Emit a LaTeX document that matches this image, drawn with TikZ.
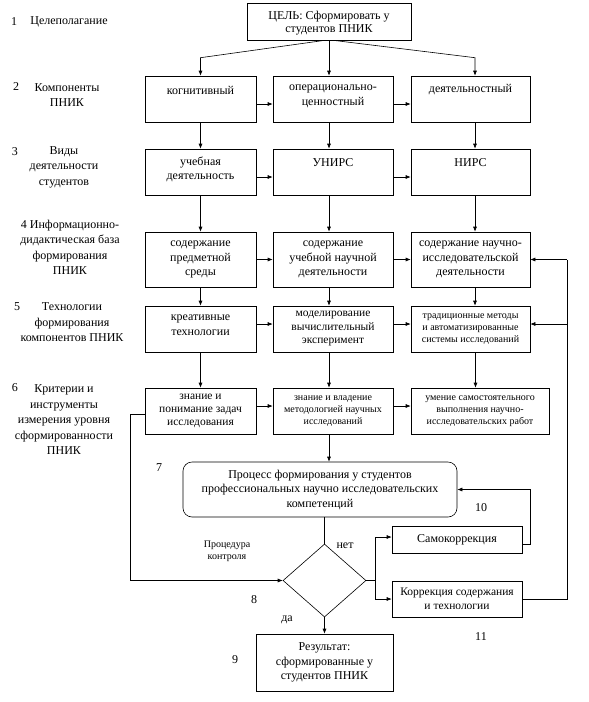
\documentclass[tikz,border=0pt]{standalone}
\usepackage{fontspec}
\setmainfont{Liberation Serif}
\usetikzlibrary{arrows.meta,shapes.geometric}
\begin{document}
\begin{tikzpicture}[x=1pt,y=-1pt,
  box/.style={draw, line width=0.6pt, inner sep=0pt, align=center, font=\fontsize{12}{14.5}\selectfont},
  txt/.style={inner sep=0pt, align=center, font=\fontsize{12}{14.5}\selectfont},
  smalltxt/.style={font=\fontsize{10}{12}\selectfont},
  lab/.style={inner sep=0pt, align=center, font=\fontsize{12}{15.5}\selectfont},
  arr/.style={-{Latex[length=5pt,width=4pt]}, line width=0.6pt},
  ln/.style={line width=0.6pt}]
\useasboundingbox (0,0) rectangle (589,702);
\fill[white] (0,0) rectangle (589,702);

% left labels
\node[lab] (n1) at (14,22) {1};
\node[lab] (l1) at (69,22) {Целеполагание};
\node[lab] (n2) at (16,87) {2};
\node[lab] (lb2) at (67,95) {Компоненты\\ПНИК};
\node[lab] (n3) at (15,152) {3};
\node[lab] (lb3) at (64,167) {Виды\\деятельности\\студентов};
\node[lab] (lb4) at (70,247.5) {4 Информационно-\\дидактическая база\\формирования\\ПНИК};
\node[lab] (n5) at (17,307) {5};
\node[lab] (lb5) at (72,322.5) {Технологии\\формирования\\компонентов ПНИК};
\node[lab] (n6) at (15,388) {6};
\node[lab] (lb6) at (64,420) {Критерии и\\инструменты\\измерения уровня\\сформированности\\ПНИК};

% top goal
\node[box, minimum width=164pt, minimum height=37pt] (top) at (329,21.5) {};
\node[txt, font=\fontsize{12}{13}\selectfont] (topt) at (329,23.5) {ЦЕЛЬ: Сформировать у\\студентов ПНИК};

% row 2
\node[box, minimum width=111pt, minimum height=46pt] (l2) at (200.5,99) {};
\node[box, minimum width=120pt, minimum height=46pt] (m2) at (333,99) {};
\node[box, minimum width=119pt, minimum height=46pt] (r2) at (470.5,99) {};
\node[txt] (l2t) at (200.5,90) {когнитивный};
\node[txt] (m2t) at (333,96.5) {операционально-\\ценностный};
\node[txt] (r2t) at (470.5,90) {деятельностный};

% row 3
\node[box, minimum width=111pt, minimum height=46pt] (l3) at (200.5,172) {};
\node[box, minimum width=120pt, minimum height=46pt] (m3) at (333,172) {};
\node[box, minimum width=119pt, minimum height=46pt] (r3) at (470.5,172) {};
\node[txt] (l3t) at (200.5,169.5) {учебная\\деятельность};
\node[txt] (m3t) at (333,163) {УНИРС};
\node[txt] (r3t) at (470.5,163) {НИРС};

% row 4
\node[box, minimum width=111pt, minimum height=55pt] (l4) at (200.5,259.5) {содержание\\предметной\\среды};
\node[box, minimum width=120pt, minimum height=55pt] (m4) at (333,259.5) {содержание\\учебной научной\\деятельности};
\node[box, minimum width=119pt, minimum height=55pt] (r4) at (470.5,259.5) {содержание научно-\\исследовательской\\деятельности};

% row 5
\node[box, minimum width=111pt, minimum height=46pt] (l5) at (200.5,329) {};
\node[txt] (l5t) at (200.5,325) {креативные\\технологии};
\node[box, minimum width=120pt, minimum height=46pt, font=\fontsize{11.5}{13.5}\selectfont] (m5) at (333,329) {моделирование\\вычислительный\\эксперимент};
\node[box, minimum width=119pt, minimum height=46pt, smalltxt] (r5) at (470.5,329) {традиционные методы\\и автоматизированные\\системы исследований};

% row 6
\node[box, minimum width=111pt, minimum height=46pt, font=\fontsize{11.5}{13}\selectfont] (l6) at (200.5,411) {знание и\\понимание задач\\исследования};
\node[box, minimum width=120pt, minimum height=46pt, smalltxt] (m6) at (333,411) {знание и владение\\методологией научных\\исследований};
\node[box, minimum width=138pt, minimum height=46pt, smalltxt] (r6) at (480,411) {умение самостоятельного\\выполнения научно-\\исследовательских работ};

% process, diamond, result, corrections
\node[box, rounded corners=9pt, minimum width=274pt, minimum height=55pt] (proc) at (320,489.5) {Процесс формирования у студентов\\профессиональных научно исследовательских\\компетенций};
\node[draw, diamond, line width=0.6pt, minimum width=83pt, minimum height=73pt, inner sep=0pt] (dia) at (324.5,580.5) {};
\node[box, minimum width=137pt, minimum height=57pt] (res) at (324.5,662.5) {Результат:\\сформированные у\\студентов ПНИК};
\node[box, minimum width=130pt, minimum height=27pt] (samo) at (457,539.5) {Самокоррекция};
\node[box, minimum width=130pt, minimum height=36pt, font=\fontsize{11.5}{14.5}\selectfont] (korr) at (457,599) {Коррекция содержания\\и технологии};

% misc labels
\node[txt] (k7) at (159,468) {7};
\node[txt] (k8) at (254,600) {8};
\node[txt] (k9) at (235,660) {9};
\node[txt] (k10) at (481,508) {10};
\node[txt] (k11) at (481,637) {11};
\node[txt] (net) at (345,546) {нет};
\node[txt] (da) at (287,620) {да};
\node[txt, smalltxt] (proc2) at (227,551.5) {Процедура\\контроля};

% top arrows
\draw[arr] ([xshift=-4pt]top.south) -- ([yshift=18pt]l2.north) -- (l2.north);
\draw[arr] (top.south) -- (top.south |- m2.north);
\draw[arr] ([xshift=4pt]top.south) -- ([xshift=4.5pt,yshift=18pt]r2.north) -- ([xshift=4.5pt]r2.north);

% vertical arrows
\draw[arr] (l2.south) -- (l3.north);
\draw[arr] (l3.south) -- (l4.north);
\draw[arr] (l4.south) -- (l5.north);
\draw[arr] (l5.south) -- (l6.north);
\draw[arr] ([xshift=-4pt]m2.south) -- ([xshift=-4pt]m3.north);
\draw[arr] ([xshift=-4pt]m3.south) -- ([xshift=-4pt]m4.north);
\draw[arr] ([xshift=-4pt]m4.south) -- ([xshift=-4pt]m5.north);
\draw[arr] ([xshift=-4pt]m5.south) -- ([xshift=-4pt]m6.north);
\draw[arr] ([xshift=4.5pt]r2.south) -- ([xshift=4.5pt]r3.north);
\draw[arr] ([xshift=4.5pt]r3.south) -- ([xshift=4.5pt]r4.north);
\draw[arr] ([xshift=4.5pt]r4.south) -- ([xshift=4.5pt]r5.north);
\draw[arr] ([xshift=5pt]r5.south) -- ([xshift=5pt]r5.south |- r6.north);

% horizontal arrows
\draw[arr] ([yshift=-5pt]l2.east) -- ([yshift=-5pt]m2.west);
\draw[arr] ([yshift=-5pt]m2.east) -- ([yshift=-5pt]r2.west);
\draw[arr] ([yshift=-5pt]l3.east) -- ([yshift=-5pt]m3.west);
\draw[arr] ([yshift=-5pt]m3.east) -- ([yshift=-5pt]r3.west);
\draw[arr] (l4.east) -- (m4.west);
\draw[arr] (m4.east) -- (r4.west);
\draw[arr] ([yshift=5pt]l5.east) -- ([yshift=5pt]m5.west);
\draw[arr] ([yshift=5pt]m5.east) -- ([yshift=5pt]r5.west);
\draw[arr] ([yshift=5pt]l6.east) -- ([yshift=5pt]m6.west);
\draw[arr] ([yshift=5pt]m6.east) -- ([yshift=5pt]r6.west);

% to process and control
\draw[arr] ([xshift=-4pt]m6.south) -- ([xshift=-4pt]m6.south |- proc.north);
\draw[ln] (dia.north |- proc.south) -- (dia.north);
\draw[arr] ([yshift=-3pt]l6.west) -- ++(-14,0) |- (dia.west);
\draw[arr] (dia.south) -- (res.north);

% corrections
\coordinate (dr) at ([xshift=9pt]dia.east);
\draw[ln] (dia.east) -- (dr);
\draw[arr] (dr) |- ([yshift=2.5pt]samo.west);
\draw[arr] (dr) |- (korr.west);
\draw[arr] ([yshift=-4.5pt]samo.east) -- ++(8,0) |- (proc.east);
\coordinate (fr) at (567,259.5);
\coordinate (r5in) at ([yshift=5pt]r5.east);
\draw[ln] (korr.east) -| (fr);
\draw[arr] (fr) -- (r4.east);
\draw[arr] (fr |- r5in) -- (r5in);
\end{tikzpicture}
\end{document}
